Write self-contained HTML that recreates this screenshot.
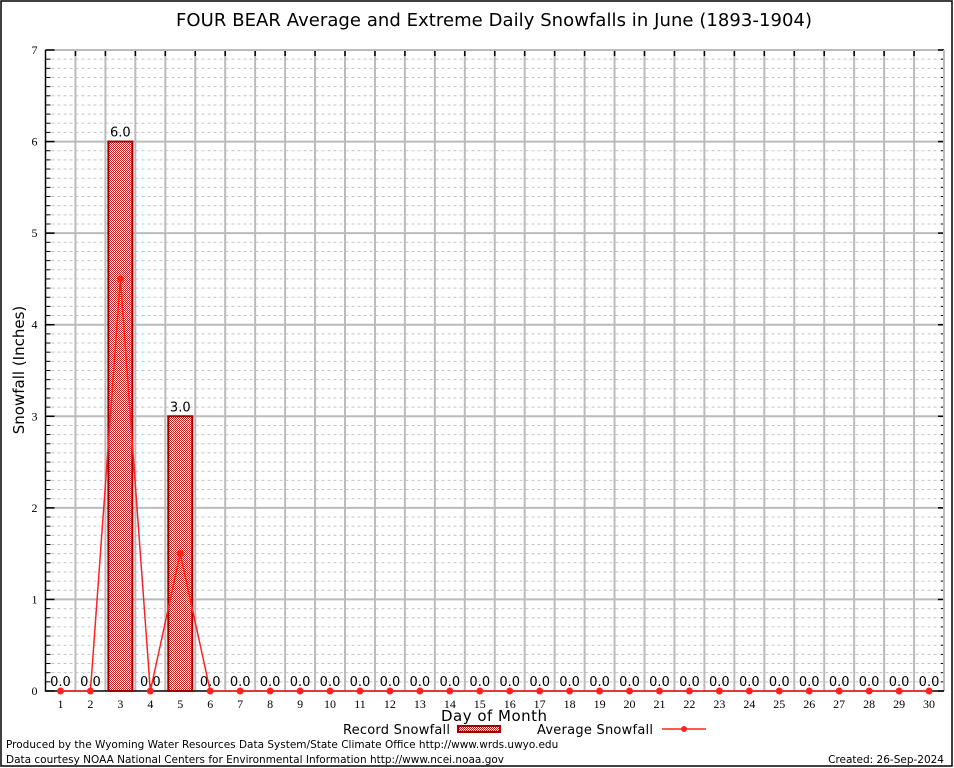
<!DOCTYPE html>
<html><head><meta charset="utf-8"><style>
body{margin:0;background:#fff;}
svg{display:block;font-family:"DejaVu Sans","Liberation Sans",sans-serif;}
</style></head><body>
<svg id="c" width="954" height="768" viewBox="0 0 954 768">
<defs>
<pattern id="hatch" width="2" height="2" patternUnits="userSpaceOnUse">
<rect width="2" height="2" fill="#fff"/><rect width="1" height="1" fill="#c02020"/><rect x="1" y="1" width="1" height="1" fill="#c02020"/>
</pattern>
</defs>
<rect x="1" y="1" width="951" height="765" fill="none" stroke="#000" stroke-width="1.5"/>
<text x="494" y="26" font-size="18" text-anchor="middle" textLength="636">FOUR BEAR Average and Extreme Daily Snowfalls in June (1893-1904)</text>
<g id="grid"></g>
<g id="marks"></g>
<text transform="translate(24,370) rotate(-90)" font-size="15" text-anchor="middle">Snowfall (Inches)</text>
<text x="494" y="721" font-size="15" text-anchor="middle" textLength="106">Day of Month</text>
<g>
<text x="343" y="734" font-size="13" textLength="107">Record Snowfall</text>
<rect x="458" y="726" width="42" height="6" fill="url(#hatch)" stroke="#a00000" stroke-width="2"/>
<text x="537" y="734" font-size="13" textLength="116">Average Snowfall</text>
<line x1="662" y1="729" x2="706" y2="729" stroke="#f22" stroke-width="1.5"/>
<circle cx="684" cy="729" r="3" fill="#f22"/>
</g>
<text x="6" y="748" font-size="10.5">Produced by the Wyoming Water Resources Data System/State Climate Office http://www.wrds.uwyo.edu</text>
<text x="6" y="763" font-size="10.5">Data courtesy NOAA National Centers for Environmental Information http://www.ncei.noaa.gov</text>
<text x="944" y="763" font-size="10.5" text-anchor="end">Created:  26-Sep-2024</text>
</svg>
<script>
const days=[1,2,3,4,5,6,7,8,9,10,11,12,13,14,15,16,17,18,19,20,21,22,23,24,25,26,27,28,29,30];
const recordSnow=[0,0,6,0,3,0,0,0,0,0,0,0,0,0,0,0,0,0,0,0,0,0,0,0,0,0,0,0,0,0];
const avgSnow=[0,0,4.5,0,1.5,0,0,0,0,0,0,0,0,0,0,0,0,0,0,0,0,0,0,0,0,0,0,0,0,0];
const yTicks=[0,1,2,3,4,5,6,7];
const NS='http://www.w3.org/2000/svg';
const L=45.5,R=944,T=50,B=691,YMAX=7;
const bw=(R-L)/days.length;
function x(i){return L+bw*(i+0.5);}
function y(v){return B-(B-T)*v/YMAX;}
function mk(t,a,p){const e=document.createElementNS(NS,t);for(const k in a)e.setAttribute(k,a[k]);(p||document.getElementById('marks')).appendChild(e);return e;}
const g=document.getElementById('grid');
for(let k=1;k<YMAX*10;k++){if(k%10===0)continue;const yy=y(k/10);
const e=mk('line',{x1:L,x2:R,y1:yy,y2:yy,stroke:'#c4c4c4','stroke-dasharray':'3,3','stroke-width':1},g);


const t=mk('line',{x1:L,x2:L+5,y1:yy,y2:yy,stroke:'#000','stroke-width':1},g);


const t2=mk('line',{x1:R-3,x2:R,y1:yy,y2:yy,stroke:'#000','stroke-width':1},g);

}
for(let i=1;i<days.length;i++){const xx=L+bw*i;
const e=mk('line',{x1:xx,x2:xx,y1:T,y2:B,stroke:'#bbb','stroke-width':2},g);


const t=mk('line',{x1:xx,x2:xx,y1:T,y2:T+6,stroke:'#000','stroke-width':1.5},g);

}
yTicks.forEach(v=>{const yy=y(v);
if(v>0){const e=mk('line',{x1:L,x2:R,y1:yy,y2:yy,stroke:'#bbb','stroke-width':2},g);

}
const tk=mk('line',{x1:L,x2:L+9,y1:yy,y2:yy,stroke:'#000','stroke-width':1.5},g);


const tk2=mk('line',{x1:R-6,x2:R,y1:yy,y2:yy,stroke:'#000','stroke-width':1.5},g);


const t=mk('text',{x:L-8,y:yy+4,'font-size':12,'text-anchor':'end','font-family':'Liberation Serif, serif'},g);
t.textContent=v;

});
const rb=mk('line',{x1:R,x2:R,y1:T,y2:B,stroke:'#bbb','stroke-width':2},g);


const ax=mk('path',{d:`M${L},${T} V${B} H${R}`,fill:'none',stroke:'#000','stroke-width':1.5},g);


days.forEach((d,i)=>{const t=mk('text',{x:x(i),y:708,'font-size':12,'text-anchor':'middle','font-family':'Liberation Serif, serif'},g);
t.textContent=d;

});
recordSnow.forEach((v,i)=>{if(v>0){const r=mk('rect',{x:x(i)-12,y:y(v),width:24,height:B-y(v),fill:'url(#hatch)',stroke:'#a00000','stroke-width':2});

}
const t=mk('text',{x:x(i),y:y(v)-5,'font-size':13,'text-anchor':'middle'});
t.textContent=v.toFixed(1);

});
const ln=mk('polyline',{points:avgSnow.map((v,i)=>x(i)+','+y(v)).join(' '),fill:'none',stroke:'#f22','stroke-width':1.5});


avgSnow.forEach((v,i)=>{const c=mk('circle',{cx:x(i),cy:y(v),r:3.5,fill:'#f22'});

});
</script>
</body></html>
